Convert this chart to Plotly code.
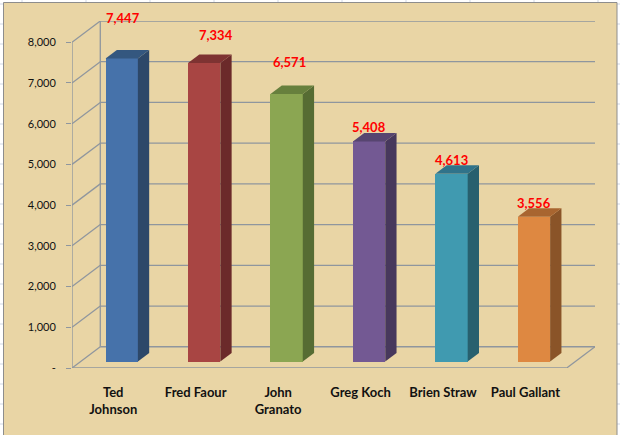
"""
Talk show host totals - Excel style 3D column chart redone in plotly
"""
import plotly.graph_objects as go

# data
names = ["Ted Johnson", "Fred Faour", "John Granato", "Greg Koch", "Brien Straw", "Paul Gallant"]
tick_labels = ["Ted<br>Johnson", "Fred Faour", "John<br>Granato", "Greg Koch", "Brien Straw", "Paul Gallant"]
totals = [7447, 7334, 6571, 5408, 4613, 3556]
y_ticks = [0, 1000, 2000, 3000, 4000, 5000, 6000, 7000, 8000]
y_tick_labels = ["-", "1,000", "2,000", "3,000", "4,000", "5,000", "6,000", "7,000", "8,000"]

# colours (front face, side face, top face)
front_colors = ["#4672AA", "#A84543", "#8BA652", "#735993", "#409AB0", "#DE8841"]
side_colors = ["#2D4869", "#6B2A2A", "#566C33", "#47385C", "#28606E", "#8A5428"]
top_colors = ["#34577F", "#7E3332", "#67803D", "#574570", "#30738A", "#A86530"]

# the data labels were dragged around by hand in the original, pixel offsets
label_yshift = [40, 28, 32, 14, 14, 14]
label_xshift = [1, 12, 3, 0, 0, 0]

W, H = 620, 435
M_L, M_R, M_T, M_B = 72, 25, 21, 67
DX = 0.343      # depth of the floor in category units
DY = 522        # depth of the floor in value units
PAPYRUS = "#E9D5A5"
LINE = "#8F969E"
FONT = "Lato"

plot_w = W - M_L - M_R
plot_h = H - M_T - M_B


def px(xp, yp):
    """pixel position -> paper coords"""
    return (xp - M_L) / plot_w, (H - M_B - yp) / plot_h


fig = go.Figure()

# bars sit between 30% and 70% of the floor depth
bar_w = 0.392
off_x, off_y = 0.3 * DX, 0.3 * DY
side_x, side_y = 0.4 * DX, 0.4 * DY

for i, v in enumerate(totals):
    xl = i + off_x - bar_w / 2
    xr = xl + bar_w
    y0 = off_y
    y1 = off_y + v
    # side face
    fig.add_trace(go.Scatter(
        x=[xr, xr + side_x, xr + side_x, xr, xr],
        y=[y0, y0 + side_y, y1 + side_y, y1, y0],
        fill="toself", fillcolor=side_colors[i], mode="lines",
        line=dict(width=0, color=side_colors[i]), hoverinfo="skip", showlegend=False))
    # top face
    fig.add_trace(go.Scatter(
        x=[xl, xr, xr + side_x, xl + side_x, xl],
        y=[y1, y1, y1 + side_y, y1 + side_y, y1],
        fill="toself", fillcolor=top_colors[i], mode="lines",
        line=dict(width=0, color=top_colors[i]), hoverinfo="skip", showlegend=False))

# front faces
fig.add_trace(go.Bar(
    x=[i + off_x for i in range(len(totals))], y=totals, base=off_y, width=bar_w,
    marker=dict(color=front_colors, line=dict(width=0)),
    customdata=names, hovertemplate="%{customdata}: %{y:,}<extra></extra>",
    showlegend=False))

# data labels
for i, v in enumerate(totals):
    fig.add_annotation(
        x=i + off_x, y=off_y + v, text=f"{v:,}", showarrow=False,
        yanchor="middle", yshift=label_yshift[i], xshift=label_xshift[i],
        font=dict(family=FONT, size=13, color="#FF0000", weight="bold"))

# back wall, floor and front axis
n = len(totals)
for v in y_ticks:
    fig.add_shape(type="line", x0=-0.5, y0=v, x1=-0.5 + DX, y1=v + DY,
                  line=dict(color=LINE, width=1.3), layer="below")
    fig.add_shape(type="line", x0=-0.5 + DX, y0=v + DY, x1=n - 0.5 + DX, y1=v + DY,
                  line=dict(color=LINE, width=1.3), layer="below")
fig.add_shape(type="line", x0=-0.5 + DX, y0=DY, x1=-0.5 + DX, y1=y_ticks[-1] + DY,
              line=dict(color=LINE, width=1.3), layer="below")
fig.add_shape(type="line", x0=n - 0.5, y0=0, x1=n - 0.5 + DX, y1=DY,
              line=dict(color=LINE, width=1.3), layer="below")
fig.add_shape(type="line", x0=-0.5, y0=0, x1=-0.5, y1=y_ticks[-1],
              line=dict(color=LINE, width=1.3), layer="below")
fig.add_shape(type="line", x0=-0.5, y0=0, x1=n - 0.5, y1=0,
              line=dict(color=LINE, width=1.3), layer="below")
for k in range(n + 1):
    fig.add_shape(type="line", xref="x", yref="y", ysizemode="pixel", yanchor=0,
                  x0=k - 0.5, x1=k - 0.5, y0=0, y1=-5,
                  line=dict(color=LINE, width=1.3), layer="below")

# chart area with the worksheet cells peeking out round it
cx0, cy0 = px(0, 0)
cx1, cy1 = px(W, H)
fig.add_shape(type="rect", xref="paper", yref="paper", x0=cx0, y0=cy0, x1=cx1, y1=cy1,
              fillcolor="white", line=dict(width=0), layer="below")
for yp in range(4, H, 20):
    for xa, xb in [(0, 3.5), (617, W)]:
        a, b = px(xa, yp), px(xb, yp)
        fig.add_shape(type="line", xref="paper", yref="paper", x0=a[0], y0=a[1], x1=b[0], y1=b[1],
                      line=dict(color="#D0D7E5", width=1), layer="below")
for xp in range(22, W, 64):
    a, b = px(xp, 0), px(xp, 2.5)
    fig.add_shape(type="line", xref="paper", yref="paper", x0=a[0], y0=a[1], x1=b[0], y1=b[1],
                  line=dict(color="#D0D7E5", width=1), layer="below")
bx0, by0 = px(3.5, 2.5)
bx1, by1 = px(617, H + 2)
fig.add_shape(type="rect", xref="paper", yref="paper", x0=bx0, y0=by0, x1=bx1, y1=by1,
              fillcolor=PAPYRUS, line=dict(color="#8D8D8D", width=1), layer="below")

fig.update_xaxes(
    range=[-0.5, n - 0.5 + DX], tickvals=list(range(n)), ticktext=tick_labels,
    ticks="outside", ticklen=12, tickcolor="rgba(0,0,0,0)",
    tickfont=dict(family=FONT, size=13, color="#111111", weight="bold"),
    showgrid=False, zeroline=False, showline=False, fixedrange=True)
fig.update_yaxes(
    range=[0, y_ticks[-1] + DY], tickvals=y_ticks, ticktext=y_tick_labels,
    ticks="outside", ticklen=5, tickcolor=LINE, tickwidth=1.3, ticklabelstandoff=8,
    tickfont=dict(family=FONT, size=11, color="#111111"),
    showgrid=False, zeroline=False, showline=False, fixedrange=True)

fig.update_layout(
    width=W, height=H,
    margin=dict(l=M_L, r=M_R, t=M_T, b=M_B, pad=0),
    paper_bgcolor="white", plot_bgcolor="rgba(0,0,0,0)",
    bargap=0, showlegend=False,
)

# page body has a default 8px margin, drop it so the figure sits at 0,0
fig.write_html("out.html", config={"displayModeBar": False},
               post_script="document.body.style.margin='0';")
